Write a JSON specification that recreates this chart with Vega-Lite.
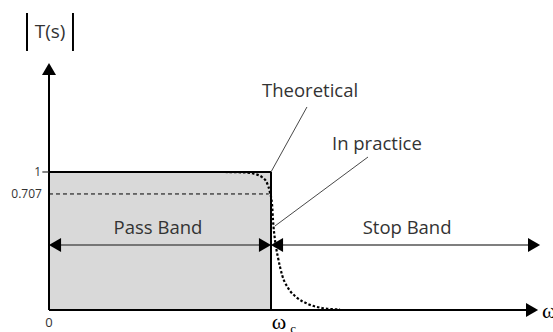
{
  "$schema": "https://vega.github.io/schema/vega-lite/v6.json",
  "width": 553,
  "height": 332,
  "autosize": "none",
  "padding": 0,
  "background": "white",
  "config": {"view": {"stroke": null}},
  "encoding": {
    "x": {"field": "x", "type": "quantitative", "axis": null, "scale": {"domain": [-0.2207, 2.2703], "nice": false, "zero": false}},
    "y": {"field": "y", "type": "quantitative", "axis": null, "scale": {"type": "sqrt", "domain": [-0.02542, 5.046], "nice": false, "zero": false}}
  },
  "layer": [
    {
      "data": {"values": [{"x": 0, "y": 0, "x2": 1, "y2": 1}]},
      "mark": {"type": "rect", "color": "#d9d9d9"},
      "encoding": {"x2": {"field": "x2"}, "y2": {"field": "y2"}}
    },
    {
      "data": {"values": [{"x": 0, "y": 0.707, "x2": 0.99, "y2": 0.707}]},
      "mark": {"type": "rule", "color": "black", "strokeWidth": 1, "strokeDash": [4, 3]},
      "encoding": {"x2": {"field": "x2"}, "y2": {"field": "y2"}}
    },
    {
      "data": {"values": [
        {"part": "y axis", "x": 0, "y": 0, "x2": 0, "y2": 3.0},
        {"part": "x axis", "x": 0, "y": 0, "x2": 2.16, "y2": 0},
        {"part": "theoretical top", "x": 0, "y": 1, "x2": 1, "y2": 1},
        {"part": "theoretical edge", "x": 1, "y": 0, "x2": 1, "y2": 1},
        {"part": "bar left", "x": -0.099, "y": 3.523, "x2": -0.099, "y2": 4.632},
        {"part": "bar right", "x": 0.108, "y": 3.523, "x2": 0.108, "y2": 4.632}
      ]},
      "mark": {"type": "rule", "color": "black", "strokeWidth": 2},
      "encoding": {"x2": {"field": "x2"}, "y2": {"field": "y2"}}
    },
    {
      "data": {"values": [{"x": -0.03, "y": 1, "x2": 0, "y2": 1}]},
      "mark": {"type": "rule", "color": "#333", "strokeWidth": 1.2},
      "encoding": {"x2": {"field": "x2"}, "y2": {"field": "y2"}}
    },
    {
      "data": {"values": [
        {"band": "Pass Band", "x": 0.02, "y": 0.222, "x2": 0.98, "y2": 0.222},
        {"band": "Stop Band", "x": 1.02, "y": 0.222, "x2": 2.18, "y2": 0.222}
      ]},
      "mark": {"type": "rule", "color": "#555", "strokeWidth": 1.5},
      "encoding": {"x2": {"field": "x2"}, "y2": {"field": "y2"}}
    },
    {
      "data": {"values": [
        {"label": "Theoretical", "x": 1.162, "y": 2.164, "x2": 1.0, "y2": 1.0},
        {"label": "In practice", "x": 1.437, "y": 1.229, "x2": 1.018, "y2": 0.3705}
      ]},
      "mark": {"type": "rule", "color": "#333", "strokeWidth": 0.9},
      "encoding": {"x2": {"field": "x2"}, "y2": {"field": "y2"}}
    },
    {
      "data": {"values": [
        {"x": 0.793, "y": 1.0},
        {"x": 0.883, "y": 0.993},
        {"x": 0.928, "y": 0.971},
        {"x": 0.959, "y": 0.929},
        {"x": 0.982, "y": 0.847},
        {"x": 0.995, "y": 0.731},
        {"x": 1.005, "y": 0.579},
        {"x": 1.009, "y": 0.425},
        {"x": 1.018, "y": 0.257},
        {"x": 1.032, "y": 0.142},
        {"x": 1.05, "y": 0.0643},
        {"x": 1.077, "y": 0.0254},
        {"x": 1.113, "y": 0.00888},
        {"x": 1.167, "y": 0.00189},
        {"x": 1.23, "y": 0.00021},
        {"x": 1.311, "y": 0.000013}
      ]},
      "mark": {"type": "line", "color": "black", "strokeWidth": 2.2, "strokeDash": [2.5, 2], "interpolate": "monotone"},
      "encoding": {"order": {"field": "x", "type": "quantitative"}}
    },
    {
      "data": {"values": [{"x": 0, "y": 3.05}]},
      "mark": {"type": "point", "shape": "triangle-up", "filled": true, "color": "black", "size": 196, "opacity": 1}
    },
    {
      "data": {"values": [{"x": 2.176, "y": 0}, {"x": 0.973, "y": 0.222}, {"x": 2.185, "y": 0.222}]},
      "mark": {"type": "point", "shape": "triangle-right", "filled": true, "color": "black", "size": 196, "opacity": 1}
    },
    {
      "data": {"values": [{"x": 0.027, "y": 0.222}, {"x": 1.027, "y": 0.222}]},
      "mark": {"type": "point", "shape": "triangle-left", "filled": true, "color": "black", "size": 196, "opacity": 1}
    },
    {
      "data": {"values": [
        {"x": 0.491, "y": 0.353, "text": "Pass Band"},
        {"x": 1.613, "y": 0.353, "text": "Stop Band"},
        {"x": 1.176, "y": 2.518, "text": "Theoretical"},
        {"x": 1.477, "y": 1.447, "text": "In practice"}
      ]},
      "mark": {"type": "text", "font": "Open Sans", "fontSize": 18.5, "color": "#333", "align": "center", "baseline": "middle"},
      "encoding": {"text": {"field": "text"}}
    },
    {
      "data": {"values": [{"x": 0.005, "y": 4.058, "text": "T(s)"}]},
      "mark": {"type": "text", "font": "Open Sans", "fontSize": 19, "color": "#333", "align": "center", "baseline": "middle"},
      "encoding": {"text": {"field": "text"}}
    },
    {
      "data": {"values": [
        {"x": -0.036, "y": 1, "text": "1"},
        {"x": -0.032, "y": 0.707, "text": "0.707"}
      ]},
      "mark": {"type": "text", "font": "Open Sans", "fontSize": 12, "color": "#333", "align": "right", "baseline": "middle"},
      "encoding": {"text": {"field": "text"}}
    },
    {
      "data": {"values": [{"x": 0, "y": 0, "text": "0"}]},
      "mark": {"type": "text", "font": "Open Sans", "fontSize": 13, "color": "#333", "align": "center", "baseline": "middle", "dy": 13},
      "encoding": {"text": {"field": "text"}}
    },
    {
      "data": {"values": [{"x": 1.036, "y": 0, "text": "ω"}]},
      "mark": {"type": "text", "font": "Liberation Serif", "fontSize": 22, "color": "black", "align": "center", "baseline": "middle", "dy": 12},
      "encoding": {"text": {"field": "text"}}
    },
    {
      "data": {"values": [{"x": 1.1, "y": 0, "text": "c"}]},
      "mark": {"type": "text", "font": "Liberation Serif", "fontSize": 13, "color": "black", "align": "center", "baseline": "middle", "dy": 19},
      "encoding": {"text": {"field": "text"}}
    },
    {
      "data": {"values": [{"x": 2.221, "y": 0, "text": "ω"}]},
      "mark": {"type": "text", "font": "Liberation Serif", "fontSize": 22, "color": "black", "align": "left", "baseline": "middle", "dy": 1},
      "encoding": {"text": {"field": "text"}}
    }
  ]
}
